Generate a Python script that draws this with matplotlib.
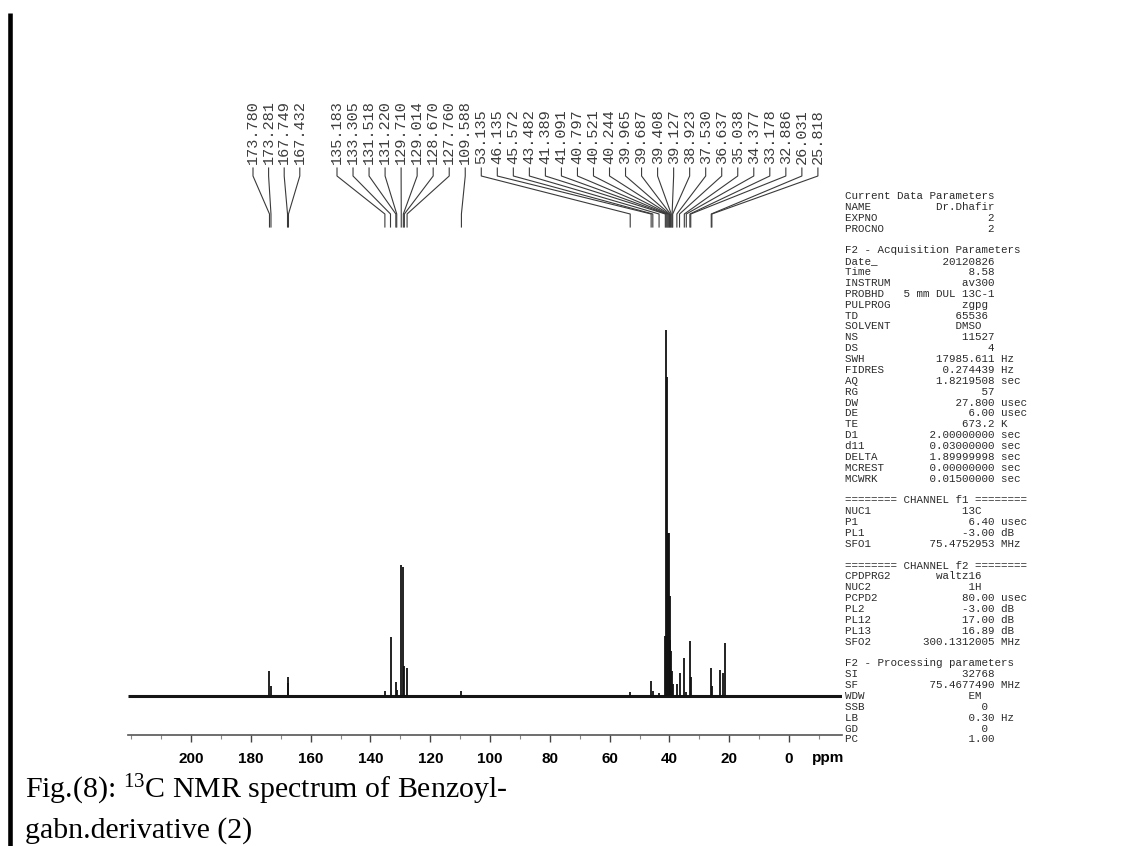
import matplotlib
matplotlib.use('Agg')
import matplotlib.pyplot as plt
from matplotlib.ticker import MultipleLocator

plt.rcParams['font.family'] = 'Liberation Sans'

# peak labels printed above the spectrum (two groups, as on the plot)
labels_low = ['173.780', '173.281', '167.749', '167.432']
labels_high = ['135.183', '133.305', '131.518', '131.220', '129.710', '129.014',
               '128.670', '127.760', '109.588', '53.135', '46.135', '45.572',
               '43.482', '41.389', '41.091', '40.797', '40.521', '40.244',
               '39.965', '39.687', '39.408', '39.127', '38.923', '37.530',
               '36.637', '35.038', '34.377', '33.178', '32.886', '26.031',
               '25.818']

# stick spectrum, heights (baseline = 0)
peak_ppm = [173.780, 173.281, 167.749, 167.432,
            135.183, 133.305, 131.518, 131.220, 129.710, 129.014, 128.670, 127.760,
            109.588, 53.135, 46.135, 45.572, 43.482,
            41.389, 41.091, 40.797, 40.521, 40.244, 39.965, 39.687, 39.408, 39.127, 38.923,
            37.530, 36.637, 35.038, 34.377, 33.178, 32.886, 26.031, 25.818,
            23.2, 22.0, 21.4]
peak_height = [25, 10, 19, 13,
               5, 59, 14, 6, 131, 129, 30, 28,
               5, 4, 15, 5, 3,
               60, 366, 319, 163, 163, 100, 56, 45, 25, 12,
               12, 23, 38, 4, 55, 19, 28, 10,
               26, 23, 53]

ppm_ticks = [200, 180, 160, 140, 120, 100, 80, 60, 40, 20, 0]

# acquisition / processing parameter listing (name, value, unit)
params = [
    ('#', 'Current Data Parameters', ''),
    ('NAME', 'Dr.Dhafir', ''),
    ('EXPNO', '2', ''),
    ('PROCNO', '2', ''),
    ('', '', ''),
    ('#', 'F2 - Acquisition Parameters', ''),
    ('Date_', '20120826', ''),
    ('Time', '8.58', ''),
    ('INSTRUM', 'av300', ''),
    ('PROBHD', '5 mm DUL 13C-1', ''),
    ('PULPROG', 'zgpg ', ''),
    ('TD', '65536 ', ''),
    ('SOLVENT', 'DMSO  ', ''),
    ('NS', '11527', ''),
    ('DS', '4', ''),
    ('SWH', '17985.611', 'Hz'),
    ('FIDRES', '0.274439', 'Hz'),
    ('AQ', '1.8219508', 'sec'),
    ('RG', '57', ''),
    ('DW', '27.800', 'usec'),
    ('DE', '6.00', 'usec'),
    ('TE', '673.2', 'K'),
    ('D1', '2.00000000', 'sec'),
    ('d11', '0.03000000', 'sec'),
    ('DELTA', '1.89999998', 'sec'),
    ('MCREST', '0.00000000', 'sec'),
    ('MCWRK', '0.01500000', 'sec'),
    ('', '', ''),
    ('#', '======== CHANNEL f1 ========', ''),
    ('NUC1', '13C  ', ''),
    ('P1', '6.40', 'usec'),
    ('PL1', '-3.00', 'dB'),
    ('SFO1', '75.4752953', 'MHz'),
    ('', '', ''),
    ('#', '======== CHANNEL f2 ========', ''),
    ('CPDPRG2', 'waltz16  ', ''),
    ('NUC2', '1H  ', ''),
    ('PCPD2', '80.00', 'usec'),
    ('PL2', '-3.00', 'dB'),
    ('PL12', '17.00', 'dB'),
    ('PL13', '16.89', 'dB'),
    ('SFO2', '300.1312005', 'MHz'),
    ('', '', ''),
    ('#', 'F2 - Processing parameters', ''),
    ('SI', '32768', ''),
    ('SF', '75.4677490', 'MHz'),
    ('WDW', 'EM  ', ''),
    ('SSB', '0 ', ''),
    ('LB', '0.30', 'Hz'),
    ('GD', '0 ', ''),
    ('PC', '1.00', ''),
]

W, H = 1144, 846
fig = plt.figure(figsize=(W / 100, H / 100), dpi=100)
fig.patch.set_facecolor('white')

# overlay in pixel coordinates for the printed page furniture
over = fig.add_axes([0, 0, 1, 1])
over.set_xlim(0, W)
over.set_ylim(H, 0)
over.axis('off')

# spectrum axes: left/right edge of the trace, bottom = ppm scale line
left_px, right_px, bottom_px, top_px = 128, 842, 735, 100
ax = fig.add_axes([left_px / W, 1 - bottom_px / H,
                   (right_px - left_px) / W, (bottom_px - top_px) / H])
ax.set_facecolor('none')
ax.set_xlim(221.1, -17.7)
ax.set_ylim(-39, 596)

ax.plot([221.1, -17.7], [0, 0], color='#151515', lw=2.2, solid_capstyle='butt')
ax.vlines(peak_ppm, 0, peak_height, color='#111111', lw=1.3)

for s in ['top', 'left', 'right']:
    ax.spines[s].set_visible(False)
ax.spines['bottom'].set_color('#555555')
ax.spines['bottom'].set_linewidth(1.2)
ax.set_yticks([])
ax.set_xticks(ppm_ticks)
ax.xaxis.set_minor_locator(MultipleLocator(10))
ax.tick_params(axis='x', which='major', direction='out', length=5, width=1,
               color='#444444', labelsize=11, pad=7)
ax.tick_params(axis='x', which='minor', direction='out', length=3, width=0.8,
               color='#888888')
for t in ax.get_xticklabels():
    t.set_fontweight('bold')
over.text(812, 758, 'ppm', fontsize=11, fontweight='bold', va='center', ha='left')

# peak labels with connector lines down to the peak position
def label_slots(labels, x0, step):
    return [(lab, x0 + i * step) for i, lab in enumerate(labels)]

slots = label_slots(labels_low, 253, 15.6) + label_slots(labels_high, 337, 16.03)
for lab, lx in slots:
    px = ax.transData.transform((float(lab), 0))[0]
    over.plot([lx, lx, px, px], [168, 176, 214, 227], color='#3a3a3a', lw=0.8)
    over.text(lx, 164, lab, rotation=90, ha='center', va='bottom', fontsize=11,
              family='Liberation Mono', color='#3c3c3c')

# parameter listing
row_y0, row_h, col_x = 196, 10.87, 845
for i, (name, val, unit) in enumerate(params):
    if name == '#':
        line = val
    elif name == '':
        continue
    else:
        line = f'{name:<8}{val:>15}'
        if unit:
            line += ' ' + unit
    over.text(col_x, row_y0 + i * row_h, line, fontsize=7.8, family='Liberation Mono',
              color='#2a2a2a', va='center', ha='left')

# caption and scanned page edge
over.plot([9.5, 9.5], [13, H], color='black', lw=3.3, solid_capstyle='butt')
over.text(25, 798, r'Fig.(8): $\mathregular{^{13}}$C NMR spectrum of Benzoyl-',
          fontsize=21.5, family='Liberation Serif', va='baseline', ha='left')
over.text(25, 838, 'gabn.derivative (2)', fontsize=21.5, family='Liberation Serif',
          va='baseline', ha='left')

fig.savefig('out.png', dpi=100)
